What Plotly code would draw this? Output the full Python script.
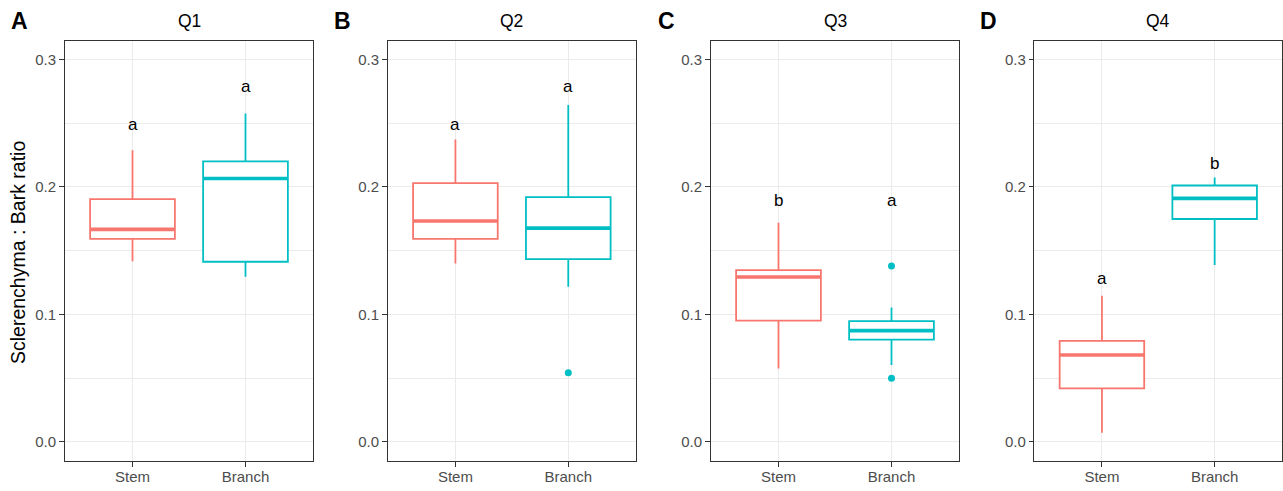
import plotly.graph_objects as go

# ---- data -------------------------------------------------------------
categories = ["Stem", "Branch"]
panel_titles = ["Q1", "Q2", "Q3", "Q4"]
panel_tags = ["A", "B", "C", "D"]

# per panel: [Stem, Branch]
lower_fence = [[0.1416, 0.1296], [0.1400, 0.1217], [0.0577, 0.0603], [0.0073, 0.1387]]
q1_vals = [[0.1593, 0.1413], [0.1593, 0.1434], [0.0951, 0.0802], [0.0421, 0.1748]]
medians = [[0.1667, 0.2066], [0.1732, 0.1677], [0.1293, 0.0873], [0.0682, 0.1910]]
q3_vals = [[0.1904, 0.2200], [0.2030, 0.1920], [0.1348, 0.0948], [0.0792, 0.2011]]
upper_fence = [[0.2288, 0.2576], [0.2372, 0.2641], [0.1719, 0.1055], [0.1147, 0.2074]]
outliers = [[[], []], [[], [0.0543]], [[], [0.1379, 0.0499]], [[], []]]

group_letters = [["a", "a"], ["a", "a"], ["b", "a"], ["a", "b"]]
letter_y = [[0.2490, 0.2787], [0.2487, 0.2787], [0.1891, 0.1891], [0.1285, 0.2187]]

y_ticks = [0.0, 0.1, 0.2, 0.3]
y_minor = [0.05, 0.15, 0.25]

# ---- styling ----------------------------------------------------------
colors = ["#F8766D", "#00BFC4"]
W, H = 1283, 491
FONT = "Liberation Sans, Arial, sans-serif"
x_domains_px = [(64.7, 313.3), (387.7, 636.0), (710.7, 959.3), (1034.3, 1282.3)]
y_top_px, y_bot_px = 40.7, 461.0
y_range = [-0.0149, 0.3146]
x_range = [0.4, 2.6]
box_w = 0.75

fig = go.Figure()
annotations = []
layout_axes = {}

for p in range(4):
    sfx = "" if p == 0 else str(p + 1)
    xa, ya = "x" + sfx, "y" + sfx
    for c, cat in enumerate(categories):
        xc = c + 1
        col = colors[c]
        fig.add_trace(go.Box(
            x=[xc], q1=[q1_vals[p][c]], median=[medians[p][c]], q3=[q3_vals[p][c]],
            lowerfence=[lower_fence[p][c]], upperfence=[upper_fence[p][c]],
            width=box_w, whiskerwidth=0, boxpoints=False,
            line=dict(color=col, width=1.8), fillcolor="white",
            xaxis=xa, yaxis=ya, showlegend=False, hoverinfo="skip",
        ))
        # thicker median bar
        fig.add_trace(go.Scatter(
            x=[xc - box_w / 2, xc + box_w / 2], y=[medians[p][c]] * 2,
            mode="lines", line=dict(color=col, width=3.6),
            xaxis=xa, yaxis=ya, showlegend=False, hoverinfo="skip",
        ))
        if outliers[p][c]:
            fig.add_trace(go.Scatter(
                x=[xc] * len(outliers[p][c]), y=outliers[p][c], mode="markers",
                marker=dict(color=col, size=7),
                xaxis=xa, yaxis=ya, showlegend=False, hoverinfo="skip",
            ))
        annotations.append(dict(
            x=xc, y=letter_y[p][c], xref=xa, yref=ya, text=group_letters[p][c],
            showarrow=False, xanchor="center", yanchor="middle",
            font=dict(family=FONT, size=17, color="black"),
        ))

    x0, x1 = x_domains_px[p]
    dom = [x0 / W, x1 / W]
    layout_axes["xaxis" + sfx] = dict(
        domain=dom, range=x_range, anchor=ya, tickvals=[1, 2], ticktext=categories,
        showgrid=True, gridcolor="#EBEBEB", gridwidth=1.1, zeroline=False,
        showline=True, mirror=True, linecolor="#333333", linewidth=1.1,
        ticks="outside", ticklen=4.5, tickwidth=1.1, tickcolor="#333333",
        ticklabelstandoff=-3,
        tickfont=dict(family=FONT, size=15, color="#4D4D4D"),
    )
    layout_axes["yaxis" + sfx] = dict(
        domain=[(H - y_bot_px) / H, (H - y_top_px) / H], range=y_range, anchor=xa,
        tickvals=y_ticks, tickformat=".1f",
        minor=dict(tickvals=y_minor, showgrid=True, gridcolor="#EBEBEB", gridwidth=0.55, ticks=""),
        showgrid=True, gridcolor="#EBEBEB", gridwidth=1.1, zeroline=False,
        showline=True, mirror=True, linecolor="#333333", linewidth=1.1,
        ticks="outside", ticklen=4.5, tickwidth=1.1, tickcolor="#333333",
        tickfont=dict(family=FONT, size=15, color="#4D4D4D"),
    )

    # panel title
    annotations.append(dict(
        x=(x0 + x1) / 2 / W, y=1 - 21 / H, xref="paper", yref="paper",
        text=panel_titles[p], showarrow=False, xanchor="center", yanchor="middle",
        font=dict(family=FONT, size=17.5, color="black"),
    ))

# panel tags
tag_x_px = [8.5, 331.7, 655.7, 977.7]
for p in range(4):
    annotations.append(dict(
        x=tag_x_px[p] / W, y=1 - 21.3 / H, xref="paper", yref="paper",
        text="<b>" + panel_tags[p] + "</b>", showarrow=False,
        xanchor="left", yanchor="middle",
        font=dict(family=FONT, size=23, color="black"),
    ))

# shared y-axis title
annotations.append(dict(
    x=18 / W, y=1 - 253 / H, xref="paper", yref="paper",
    text="Sclerenchyma : Bark ratio", textangle=-90, showarrow=False,
    xanchor="center", yanchor="middle",
    font=dict(family=FONT, size=19.5, color="black"),
))

fig.update_layout(
    width=W, height=H, margin=dict(l=0, r=0, t=0, b=0),
    paper_bgcolor="white", plot_bgcolor="white",
    showlegend=False, annotations=annotations, **layout_axes,
)

fig.write_html("out.html")
